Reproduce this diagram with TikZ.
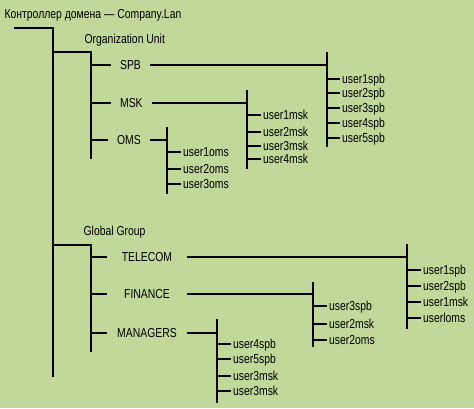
\documentclass[tikz,border=0pt]{standalone}
\usepackage{fontspec}
\setmainfont{Liberation Sans}[FakeStretch=0.8]
\definecolor{bg}{RGB}{192,216,154}
\begin{document}
\begin{tikzpicture}[x=1pt,y=-1pt,line width=1.2pt,
  every node/.style={font=\fontsize{13}{15}\selectfont, text height=9.3pt, text depth=0pt, inner ysep=0pt},
  lbl/.style={anchor=west, inner xsep=0pt},
  leaf/.style={anchor=west, inner xsep=1.5pt},
  oubox/.style={anchor=west, inner xsep=8.5pt},
  ggbox/.style={minimum width=78pt, inner xsep=0pt}]
\fill[bg] (0,0) rectangle (474,408);
\useasboundingbox (0,0) rectangle (474,408);

\node[lbl] (title) at (4,14) {Контроллер домена — Company.Lan};
\coordinate (rootL) at (14,28);
\coordinate (rootT) at (53,28);
\coordinate (rootB) at (53,377);
\draw (rootL) -- (rootT) -- (rootB);

% Organization Unit
\node[lbl] (ou) at (84,39) {Organization Unit};
\coordinate (ouJ) at (53,52);
\coordinate (ouT) at (91,52);
\coordinate (ouB) at (91,159);
\draw (ouJ) -- (ouT) -- (ouB);

% SPB
\node[oubox] (spb) at (111,65) {SPB};
\coordinate (spbT) at (327,52);
\coordinate (spbB) at (327,147);
\draw (ouT |- spb.west) -- (spb.west);
\draw (spb.east) -- (spb.east -| spbT);
\draw (spbT) -- (spbB);
\foreach \n/\y in {1/79,2/93,3/108,4/123,5/138}{
  \node[leaf] (spbu\n) at (340,\y) {user\n spb};
  \draw (spbu\n.west -| spbT) -- (spbu\n.west);
}

% MSK
\node[oubox] (msk) at (111,103) {MSK};
\coordinate (mskT) at (247,90);
\coordinate (mskB) at (247,169);
\draw (ouT |- msk.west) -- (msk.west);
\draw (msk.east) -- (msk.east -| mskT);
\draw (mskT) -- (mskB);
\foreach \n/\y in {1/115,2/132,3/146,4/159}{
  \node[leaf] (msku\n) at (261,\y) {user\n msk};
  \draw (msku\n.west -| mskT) -- (msku\n.west);
}

% OMS
\node[oubox] (oms) at (108,140) {OMS};
\coordinate (omsT) at (167,127);
\coordinate (omsB) at (167,194);
\draw (ouT |- oms.west) -- (oms.west);
\draw (oms.east) -- (oms.east -| omsT);
\draw (omsT) -- (omsB);
\foreach \n/\y in {1/152,2/169,3/184}{
  \node[leaf] (omsu\n) at (181,\y) {user\n oms};
  \draw (omsu\n.west -| omsT) -- (omsu\n.west);
}

% Global Group
\node[lbl] (gg) at (83,231) {Global Group};
\coordinate (ggJ) at (53,245);
\coordinate (ggT) at (91,245);
\coordinate (ggB) at (91,352);
\draw (ggJ) -- (ggT) -- (ggB);

% TELECOM
\node[ggbox] (tel) at (147,257) {TELECOM};
\coordinate (telT) at (407,244);
\coordinate (telB) at (407,329);
\draw (ggT |- tel.west) -- (tel.west);
\draw (tel.east) -- (tel.east -| telT);
\draw (telT) -- (telB);
\foreach \k/\t/\y in {1/user1spb/270,2/user2spb/286,3/user1msk/302,4/userloms/318}{
  \node[leaf] (telu\k) at (421,\y) {\t};
  \draw (telu\k.west -| telT) -- (telu\k.west);
}

% FINANCE
\node[ggbox] (fin) at (147,294) {FINANCE};
\coordinate (finT) at (313,282);
\coordinate (finB) at (313,347);
\draw (ggT |- fin.west) -- (fin.west);
\draw (fin.east) -- (fin.east -| finT);
\draw (finT) -- (finB);
\foreach \k/\t/\y in {1/user3spb/306,2/user2msk/324,3/user2oms/340}{
  \node[leaf] (finu\k) at (327,\y) {\t};
  \draw (finu\k.west -| finT) -- (finu\k.west);
}

% MANAGERS
\node[ggbox] (man) at (147,333) {MANAGERS};
\coordinate (manT) at (217,319);
\coordinate (manB) at (217,403);
\draw (ggT |- man.west) -- (man.west);
\draw (man.east) -- (man.east -| manT);
\draw (manT) -- (manB);
\foreach \k/\t/\y in {1/user4spb/344,2/user5spb/359,3/user3msk/376,4/user3msk/391}{
  \node[leaf] (manu\k) at (231,\y) {\t};
  \draw (manu\k.west -| manT) -- (manu\k.west);
}
\end{tikzpicture}
\end{document}
